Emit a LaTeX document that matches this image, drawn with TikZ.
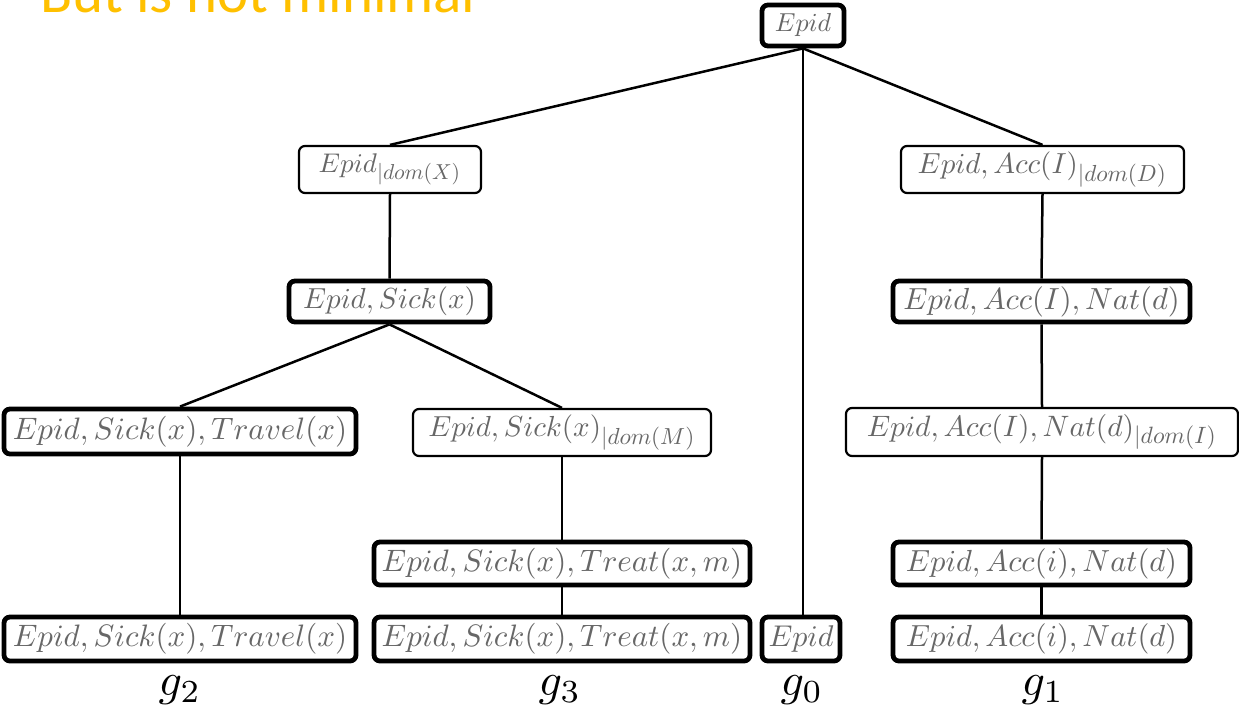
\documentclass[tikz,border=0pt]{standalone}
\usepackage{fontspec}
\usepackage{graphicx}
\newfontfamily\titlefont{Carlito}
\definecolor{termgray}{HTML}{676767}
\definecolor{titleorange}{HTML}{FFC000}
\newcommand{\term}[2]{\scalebox{#1}{$#2$}}
\newcommand{\restr}[1]{_{\scalebox{0.8}{$|#1$}}}
\tikzset{
  box/.style={draw=black, rounded corners=6pt, inner sep=0pt, text=termgray, fill=white},
  thinbox/.style={box, line width=2.2pt},
  thickbox/.style={box, line width=4.8pt},
  link/.style={draw=black, line width=2.5pt},
  glabel/.style={inner sep=0pt, text=black}
}
\begin{document}
\begin{tikzpicture}[x=1pt, y=-1pt]
  \useasboundingbox (0,0) rectangle (1239,714);
  % heading, partly cut off by the top edge
  \begin{scope}
    \clip (0,0) rectangle (1239,714);
    \node[anchor=base west, inner sep=0pt, text=titleorange] (title) at (40,13)
      {\titlefont\fontsize{59}{60}\selectfont But is not minimal};
  \end{scope}

  % ends of the long edge from the root straight down to g0's leaf
  \coordinate (rootfoot) at (803,46);
  \coordinate (leaf0top) at (803,617);

  % root
  \node[thickbox, minimum width=82pt, minimum height=41pt] (root) at (803,25.5) {\term{2.6}{Epid}};

  % left branch
  \node[thinbox, minimum width=182pt, minimum height=47pt] (domx) at (390,169.5) {\term{2.7}{Epid\restr{dom(X)}}};
  \node[thickbox, minimum width=201pt, minimum height=41pt] (sick) at (389.5,301.5) {\term{2.9}{Epid,Sick(x)}};
  \node[thickbox, minimum width=352pt, minimum height=45pt] (trav1) at (180,431.5) {\term{3.1}{Epid,Sick(x),Travel(x)}};
  \node[thinbox, minimum width=298pt, minimum height=47pt] (domm) at (562,432.5) {\term{2.9}{Epid,Sick(x)\restr{dom(M)}}};
  \node[thickbox, minimum width=376pt, minimum height=43pt] (treat1) at (562,563.5) {\term{3.1}{Epid,Sick(x),Treat(x,m)}};

  % right branch
  \node[thinbox, minimum width=283pt, minimum height=47pt] (domd) at (1042.5,169.5) {\term{2.9}{Epid,Acc(I)\restr{dom(D)}}};
  \node[thickbox, minimum width=297pt, minimum height=41pt] (accnat) at (1041.5,301.5) {\term{3.05}{Epid,Acc(I),Nat(d)}};
  \node[thinbox, minimum width=392pt, minimum height=48pt] (domi) at (1042,432) {\term{2.95}{Epid,Acc(I),Nat(d)\restr{dom(I)}}};
  \node[thickbox, minimum width=297pt, minimum height=43pt] (acci1) at (1041.5,563.5) {\term{3.05}{Epid,Acc(i),Nat(d)}};

  % leaves
  \node[thickbox, minimum width=352pt, minimum height=44pt] (trav2) at (180,639) {\term{3.1}{Epid,Sick(x),Travel(x)}};
  \node[thickbox, minimum width=376pt, minimum height=44pt] (treat2) at (562,639) {\term{3.1}{Epid,Sick(x),Treat(x,m)}};
  \node[thickbox, minimum width=78pt, minimum height=44pt] (leaf0) at (801,639) {\term{3.0}{Epid}};
  \node[thickbox, minimum width=297pt, minimum height=44pt] (acci2) at (1041.5,639) {\term{3.05}{Epid,Acc(i),Nat(d)}};

  % group labels
  \node[glabel] (g2) at (180,690) {\term{4.6}{g_2}};
  \node[glabel] (g3) at (560,690) {\term{4.6}{g_3}};
  \node[glabel] (g0) at (802,690) {\term{4.6}{g_0}};
  \node[glabel] (g1) at (1043,690) {\term{4.6}{g_1}};

  % connectors
  \draw[link] (root.south) -- (domx.north);
  \draw[link] (root.south) -- (domd.north);
  \draw[link] (rootfoot) -- (leaf0top);
  \draw[link] (domx.south) -- (sick.north);
  \draw[link] (sick.south) -- (trav1.north);
  \draw[link] (sick.south) -- (domm.north);
  \draw[link] (trav1.south) -- (trav2.north);
  \draw[link] (domm.south) -- (treat1.north);
  \draw[link] (treat1.south) -- (treat2.north);
  \draw[link] (domd.south) -- (accnat.north);
  \draw[link] (accnat.south) -- (domi.north);
  \draw[link] (domi.south) -- (acci1.north);
  \draw[link] (acci1.south) -- (acci2.north);
\end{tikzpicture}
\end{document}
